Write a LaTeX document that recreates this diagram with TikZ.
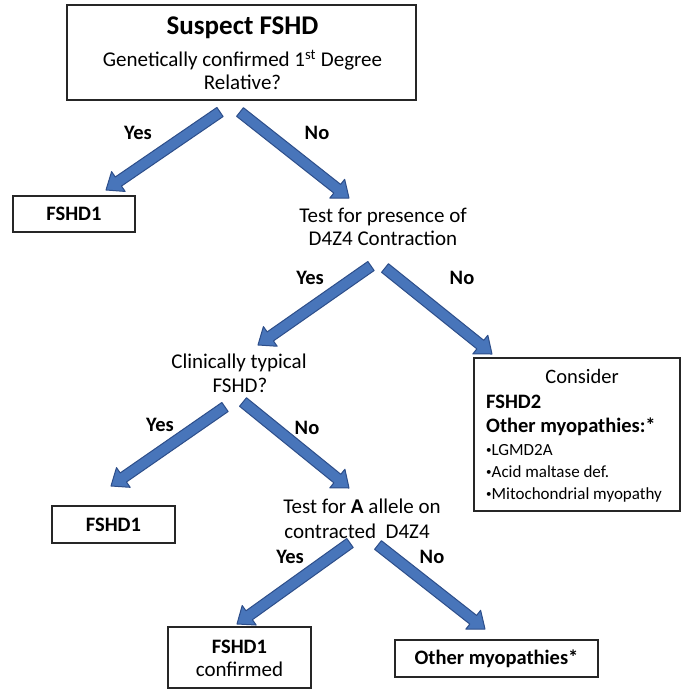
\documentclass[tikz,border=0pt]{standalone}
\usepackage{fontspec}
\setmainfont{Carlito}
\usetikzlibrary{calc}
\definecolor{arrfill}{RGB}{72,117,186}
\definecolor{arrline}{RGB}{45,78,138}
\newcommand\blockarrow[3]{%
  \path ($(#2)!15pt!(#1)$) coordinate (#3h);
  \filldraw[arr] ($(#1)!5.5pt!90:(#2)$) -- ($(#3h)!5.5pt!90:(#2)$) -- ($(#3h)!12pt!90:(#2)$)
    -- (#2) -- ($(#3h)!12pt!-90:(#2)$) -- ($(#3h)!5.5pt!-90:(#2)$) -- ($(#1)!5.5pt!-90:(#2)$) -- cycle;
}
\newcommand\smbul{{\fontsize{11}{11}\selectfont\raisebox{1.5pt}{•}}}
\tikzset{
  box/.style={draw=black!85, line width=1.3pt, fill=white, inner sep=0pt},
  txt/.style={inner sep=0pt, font=\fontsize{21}{23}\selectfont},
  lbl/.style={inner sep=0pt, font=\fontsize{20.5}{23}\selectfont\bfseries},
  bx/.style={inner sep=0pt, font=\fontsize{20.5}{23}\selectfont\bfseries},
  smalltxt/.style={inner sep=0pt, font=\fontsize{17}{19}\selectfont},
  arr/.style={fill=arrfill, draw=arrline, line width=1pt, line join=round},
}
\begin{document}
\begin{tikzpicture}[x=1pt,y=-1pt]
\useasboundingbox (0,0) rectangle (682,690);
\fill[white] (0,0) rectangle (682,690);

% top box
\node[box, minimum width=349pt, minimum height=95pt] (top) at (241.5,52.5) {};
\node[inner sep=0pt, anchor=base, font=\fontsize{27}{30}\selectfont\bfseries] (title) at (242.5,35) {Suspect FSHD};
\node[txt, anchor=base] (q1a) at (242.5,67) {Genetically confirmed 1\textsuperscript{st} Degree};
\node[txt, anchor=base] (q1b) at (242.5,90) {Relative?};

% first level
\node[box, bx, minimum width=122pt, minimum height=36pt] (f1) at (74,214) {FSHD1};
\node[txt, anchor=base] (t2a) at (383,222) {Test for presence of};
\node[txt, anchor=base] (t2b) at (383,245) {D4Z4 Contraction};

% second level
\node[txt, anchor=base] (c3a) at (239,368) {Clinically typical};
\node[txt, anchor=base] (c3b) at (240,392) {FSHD?};

\node[box, minimum width=206pt, minimum height=153pt] (cons) at (577,434.5) {};
\node[inner sep=0pt, anchor=base, font=\fontsize{20.5}{23}\selectfont] (cons1) at (582,383) {Consider};
\node[bx, anchor=base west] (cons2) at (486,408) {FSHD2};
\node[bx, anchor=base west] (cons3) at (486,432) {Other myopathies:*};
\node[smalltxt, anchor=base west] (cons4) at (486,455) {\smbul LGMD2A};
\node[smalltxt, anchor=base west] (cons5) at (486,477) {\smbul Acid maltase def.};
\node[smalltxt, anchor=base west] (cons6) at (486,499) {\smbul Mitochondrial myopathy};

% third level
\node[box, bx, minimum width=123pt, minimum height=37pt] (f2) at (113.5,524.5) {FSHD1};
\node[txt, anchor=base] (t4a) at (362,513) {Test for \textbf{A} allele on};
\node[txt, anchor=base] (t4b) at (357,538) {contracted\ \ D4Z4};

% bottom
\node[box, minimum width=143pt, minimum height=61pt] (fc) at (239.5,657.5) {};
\node[bx, anchor=base] (fc1) at (239.5,653) {FSHD1};
\node[txt, anchor=base] (fc2) at (239.5,676) {confirmed};
\node[box, bx, minimum width=203pt, minimum height=37pt] (om) at (496.5,658.5) {Other myopathies*};

% labels
\node[lbl] (y1) at (138,133) {Yes};
\node[lbl] (n1) at (317,133) {No};
\node[lbl] (y2) at (310,278) {Yes};
\node[lbl] (n2) at (462,278) {No};
\node[lbl] (y3) at (160,425) {Yes};
\node[lbl] (n3) at (307,428) {No};
\node[lbl] (y4) at (290,557) {Yes};
\node[lbl] (n4) at (432,557) {No};

% arrow endpoints
\coordinate (a1s) at (220,112); \coordinate (a1e) at (106,190);
\coordinate (a2s) at (240,112); \coordinate (a2e) at (349,198);
\coordinate (a3s) at (371,266); \coordinate (a3e) at (258,345);
\coordinate (a4s) at (385,268); \coordinate (a4e) at (492,354);
\coordinate (a5s) at (225,407); \coordinate (a5e) at (111,486);
\coordinate (a6s) at (243,402); \coordinate (a6e) at (349,488);
\coordinate (a7s) at (350,543); \coordinate (a7e) at (237,624);
\coordinate (a8s) at (378,545); \coordinate (a8e) at (485,629);

\blockarrow{a1s}{a1e}{a1}
\blockarrow{a2s}{a2e}{a2}
\blockarrow{a3s}{a3e}{a3}
\blockarrow{a4s}{a4e}{a4}
\blockarrow{a5s}{a5e}{a5}
\blockarrow{a6s}{a6e}{a6}
\blockarrow{a7s}{a7e}{a7}
\blockarrow{a8s}{a8e}{a8}
\end{tikzpicture}
\end{document}
